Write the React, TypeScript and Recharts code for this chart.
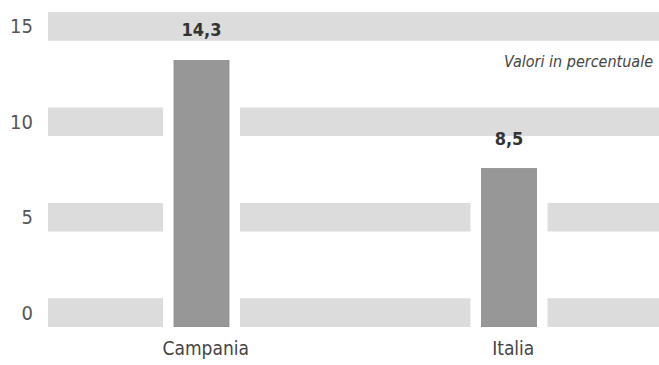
import { BarChart, Bar, XAxis, YAxis, ReferenceArea, LabelList } from 'recharts'

const categories = ['Campania', 'Italia']
const values = [14.3, 8.5]
const yTicks = [0, 5, 10, 15]

const data = categories.map((name, i) => ({ name, value: values[i] }))

const FONT = "'Liberation Sans Narrow', 'DejaVu Sans Condensed', 'Roboto', sans-serif"
const BAND = '#dcdcdc'
const BAR = '#979797'

// bar with a white margin that cuts the grey bands around it
function GapBar(props: any) {
  const { x, y, width, height } = props
  const pad = 11
  return (
    <g>
      <rect x={x - pad} y={y - pad} width={width + pad * 2} height={height + pad} fill="#ffffff" />
      <rect x={x} y={y} width={width} height={height} fill={BAR} stroke="#8c8c8c" strokeWidth={0.8} />
    </g>
  )
}

export default function App() {
  return (
    <div style={{ position: 'absolute', left: 0, top: 0, width: 659, height: 365, overflow: 'hidden', background: '#fff' }}>
      <BarChart
        width={663}
        height={365}
        data={data}
        margin={{ top: 12, right: 0, bottom: 0, left: 0 }}
        barSize={55}
      >
        <XAxis
          dataKey="name"
          axisLine={false}
          tickLine={false}
          height={38}
          tickMargin={9}
          dx={4}
          tick={{ fill: '#444', fontSize: 19, fontFamily: FONT }}
        />
        <YAxis
          yAxisId="main"
          domain={[-0.75, 15.75]}
          allowDataOverflow
          ticks={yTicks}
          axisLine={false}
          tickLine={false}
          width={48}
          tickMargin={9}
          tick={{ fill: '#555', fontSize: 20, fontFamily: FONT }}
        />
        <YAxis yAxisId="bar" orientation="right" domain={[0, 16.9]} allowDataOverflow hide />
        {yTicks.map((t) => (
          <ReferenceArea
            key={t}
            yAxisId="main"
            y1={t - 0.75}
            y2={t + 0.75}
            fill={BAND}
            fillOpacity={1}
            stroke="none"
          />
        ))}
        <Bar yAxisId="bar" dataKey="value" shape={GapBar} isAnimationActive={false}>
          <LabelList
            dataKey="value"
            position="top"
            offset={24}
            formatter={(v: any) => Number(v).toFixed(1).replace('.', ',')}
            style={{ fill: '#333', fontSize: 18, fontWeight: 700, fontFamily: FONT }}
          />
        </Bar>
      </BarChart>
      <div
        style={{
          position: 'absolute',
          right: 6,
          top: 52,
          fontFamily: FONT,
          fontStyle: 'italic',
          fontSize: 16,
          color: '#444',
          whiteSpace: 'nowrap',
        }}
      >
        Valori in percentuale
      </div>
    </div>
  )
}
